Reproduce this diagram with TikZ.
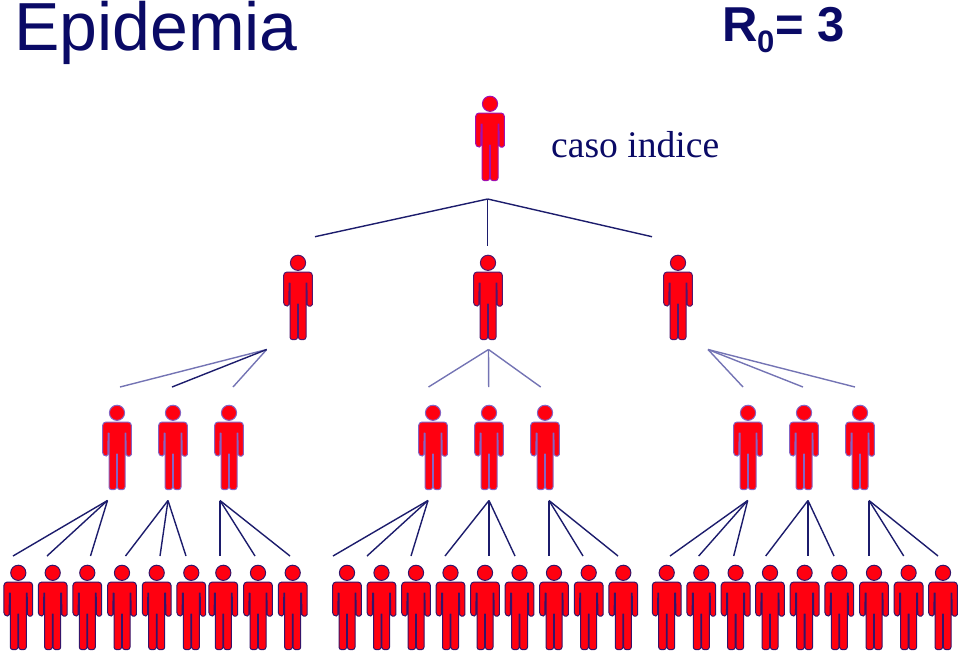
\documentclass[tikz,border=0pt]{standalone}
\usepackage{fontspec}
\setmainfont{Liberation Sans}
\newfontfamily\serifface{Liberation Serif}
\definecolor{inknavy}{HTML}{0A0A66}
\definecolor{linkdark}{HTML}{1C1C6C}
\definecolor{linklight}{HTML}{7474B4}
\definecolor{edgeone}{HTML}{A010B0}
\definecolor{edgetwo}{HTML}{50186F}
\definecolor{edgethree}{HTML}{8464C4}
\definecolor{edgefour}{HTML}{34146A}
\definecolor{bodyred}{HTML}{FF0010}
\tikzset{
  x=1pt, y=-1pt,
  heading/.style={anchor=base west, inner sep=0pt, text=inknavy},
  link/.style={draw=linkdark, line width=1.4pt},
  softlink/.style={draw=linklight, line width=1.4pt},
  figure outline/.style={fill=bodyred, draw=#1, line width=1pt, line join=round},
  pics/person/.style={code={
    \path[figure outline=#1] (0,7.8) circle[radius=7.6];
    \path[figure outline=#1]
      (-8,17) [rounded corners=3.5pt] -- (-14.4,17) -- (-14.4,51) [rounded corners=1.5pt] -- (-9.2,51) [sharp corners] -- (-8.9,28) -- (-8,28)
      [rounded corners=2.5pt] -- (-8,84.6) -- (-0.4,84.6) [sharp corners] -- (-0.4,49) -- (0.4,49)
      [rounded corners=2.5pt] -- (0.4,84.6) -- (8,84.6) [sharp corners] -- (8,28) -- (8.9,28)
      [rounded corners=1.5pt] -- (9.2,51) -- (14.4,51) [rounded corners=3.5pt] -- (14.4,17) -- (8,17) [sharp corners] -- cycle;
  }}
}
% One fan of connectors: style, name, apex, list of end points
\newcommand{\linkfan}[5]{%
  \coordinate (#2) at (#3);
  \foreach \ex/\ey [count=\k] in {#4} {
    \coordinate (#2-\k) at (\ex,\ey);
    \draw[#1, #5] (#2) -- (#2-\k);
  }%
}
\begin{document}
\begin{tikzpicture}
\useasboundingbox (0,0) rectangle (960,654);

% Headings
\node[heading, font=\fontsize{68}{68}\selectfont] (title) at (14,50.5) {Epidemia};
\node[heading, font=\fontsize{49}{49}\bfseries\selectfont] (rzero) at (722,41) {R};
\node[heading, font=\fontsize{31}{31}\bfseries\selectfont] (rsub) at (757,52) {0};
\node[heading, font=\fontsize{49}{49}\bfseries\selectfont] (rval) at (775,41) {= 3};
\node[heading, font=\fontsize{37.6}{37.6}\serifface\selectfont] (index) at (551,157) {caso indice};

% People, generation by generation
\pic at (490,96) {person=edgeone};
\foreach \px in {298,488,678} \pic at (\px,255) {person=edgetwo};
\foreach \px in {117,173,229,433,489,545,748,804,860} \pic at (\px,405) {person=edgethree};
\foreach \px in {18.3,52.7,87.3,122,156.7,191.3,223.3,258,292.7,
                 347,381.5,416,450.5,485,519.5,554,588.7,623.3,
                 666.7,701.3,735.6,770,804.6,839.3,874,908.6,943}
  \pic at (\px,565) {person=edgefour};

% Connectors from the index case
\linkfan{link}{top}{487.7,199}{315/236.7, 487.7/245.7, 652/236.7}{}

% Connectors from the second generation
\linkfan{softlink}{a}{266.7,349.5}{120/387, 233/387}{}
\linkfan{link}{aa}{266.7,349.5}{172/387}{}
\linkfan{softlink}{b}{488.5,349.5}{428.5/387, 488.7/387, 540.7/387}{}
\linkfan{softlink}{c}{708,349.5}{743/387, 803/387, 855/387}{}

% Connectors from the third generation
\linkfan{link}{d}{107.5,500.5}{13/556, 47/556, 90.5/556}{}
\linkfan{link}{e}{168,500.5}{125.5/556, 160/556, 186/556}{}
\linkfan{link}{f}{220,500.5}{220/556, 255/556, 290/556}{}
\linkfan{link}{g}{428,500.5}{333/556, 367/556, 411/556}{}
\linkfan{link}{h}{489,500.5}{445/556, 489/556, 515/556}{}
\linkfan{link}{i}{549,500.5}{549/556, 583/556, 618/556}{}
\linkfan{link}{j}{747.7,500.5}{670/556, 698.7/556, 733.7/556}{}
\linkfan{link}{k}{808,500.5}{765.7/556, 808/556, 834/556}{}
\linkfan{link}{l}{869,500.5}{869/556, 903.7/556, 938/556}{}
\end{tikzpicture}
\end{document}
